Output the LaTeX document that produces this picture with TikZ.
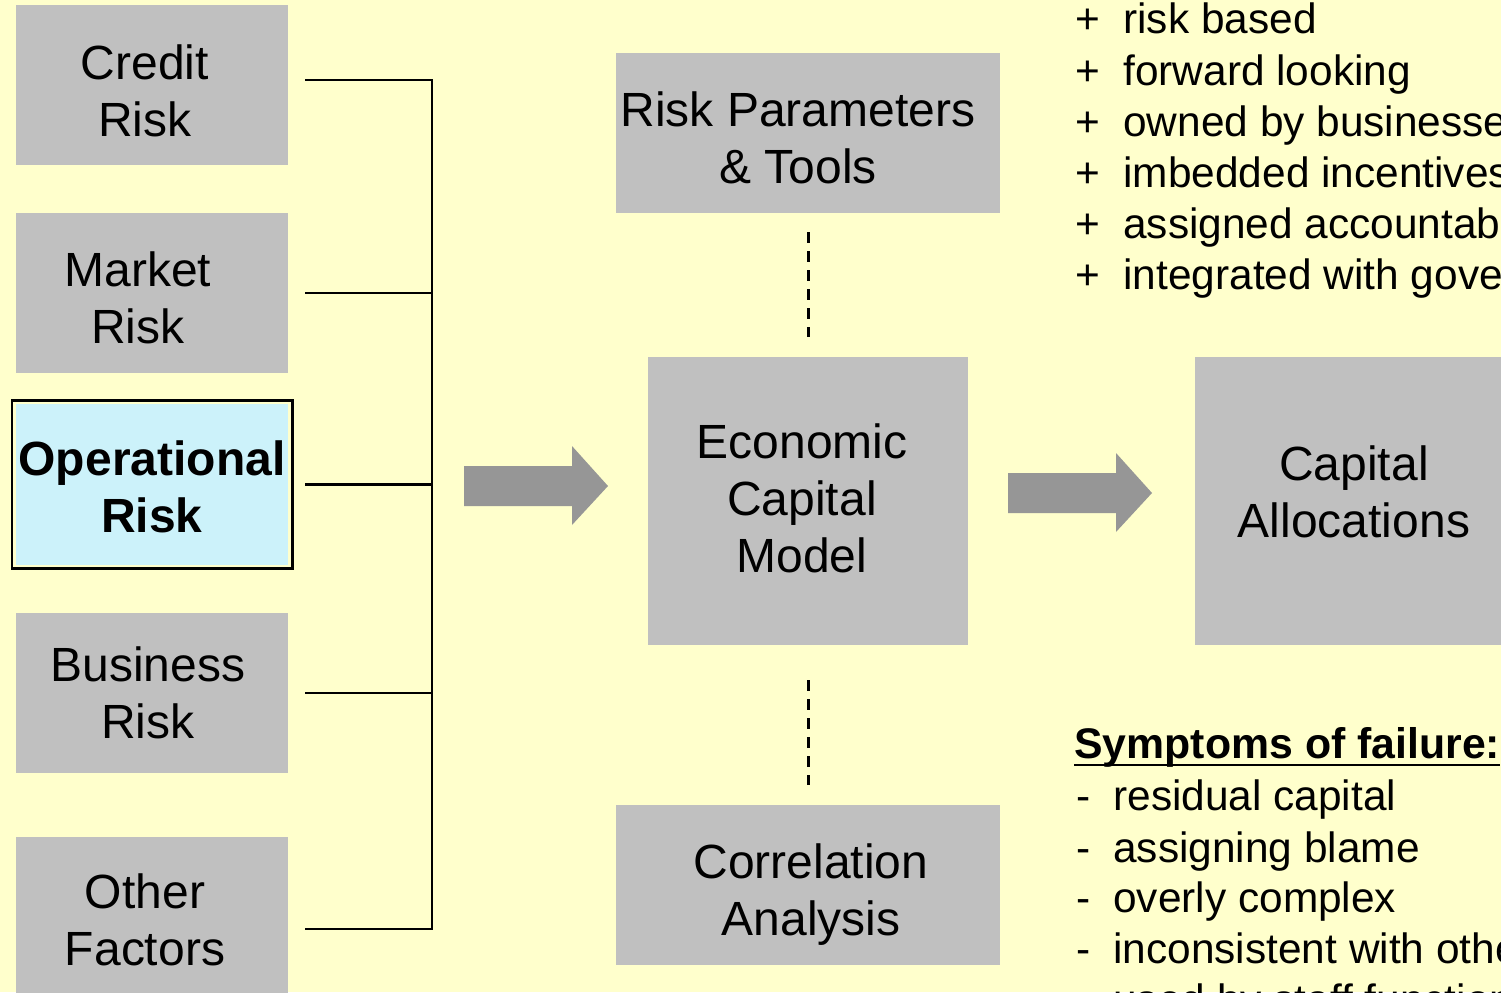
\documentclass[tikz,border=0pt]{standalone}
\usepackage{fontspec}
\setmainfont{Liberation Sans}
\definecolor{bg}{HTML}{FFFFCC}
\definecolor{boxgray}{HTML}{C0C0C0}
\definecolor{opcyan}{HTML}{CCF2FA}
\definecolor{arrowgray}{HTML}{969696}
\begin{document}
\begin{tikzpicture}[x=0.5pt,y=-0.5pt,
  box/.style={fill=boxgray, draw=none, inner sep=0pt},
  boxtxt/.style={align=center, inner sep=0pt, font=\fontsize{24pt}{28.5pt}\selectfont},
  conn/.style={draw=black, line width=1.25pt},
  dashln/.style={draw=black, line width=1.5pt, dash pattern=on 5.5pt off 4pt},
  blockarrow/.style={fill=arrowgray, draw=none},
  listtxt/.style={anchor=base west, inner sep=0pt, font=\fontsize{21.2pt}{25.7pt}\selectfont}]
\useasboundingbox (0,0) rectangle (1501,992);
\clip (0,0) rectangle (1501,992);
\fill[bg] (0,0) rectangle (1501,992);

% left column
\node[box, minimum width=136pt, minimum height=80pt] (credit) at (152,85) {};
\node[boxtxt] (creditT) at (145,91) {Credit\\Risk};
\node[box, minimum width=136pt, minimum height=80pt] (market) at (152,293) {};
\node[boxtxt] (marketT) at (138,298) {Market\\Risk};
\node[box, fill=opcyan, minimum width=136pt, minimum height=80.5pt] (ops) at (152,484.5) {};
\draw[line width=1.25pt] ([xshift=-1.75pt,yshift=1.5pt]ops.north west) rectangle ([xshift=2pt,yshift=-1.5pt]ops.south east);
\node[boxtxt, font=\fontsize{24pt}{28.5pt}\selectfont\bfseries] (opsT) at (152,486.5) {Operational\\Risk};
\node[box, minimum width=136pt, minimum height=80pt] (business) at (152,693) {};
\node[boxtxt] (businessT) at (148,693) {Business\\Risk};
\node[box, minimum width=136pt, minimum height=92pt] (other) at (152,929) {};
\node[boxtxt] (otherT) at (145,920) {Other\\Factors};

% bus connectors
\coordinate (bt) at (432,80);
\coordinate (bb) at (432,929);
\draw[conn] ([xshift=8.5pt,yshift=2.5pt]credit.east) -- (bt) -- (bb) -- ([xshift=8.5pt]other.east);
\draw[conn] ([xshift=8.5pt]market.east) -- (market.east -| bt);
\draw[conn] ([xshift=8.5pt]ops.east) -- (ops.east -| bt);
\draw[conn] ([xshift=8.5pt]business.east) -- (business.east -| bt);

% centre column
\node[box, minimum width=192pt, minimum height=80pt] (rp) at (808,133) {};
\node[boxtxt] (rpT) at (798,138) {Risk Parameters\\\& Tools};
\node[box, minimum width=160pt, minimum height=144pt] (ecm) at (808,501) {};
\node[boxtxt] (ecmT) at (802,498) {Economic\\Capital\\Model};
\node[box, minimum width=192pt, minimum height=80pt] (corr) at (808,885) {};
\node[boxtxt] (corrT) at (811,895) {Correlation\\Analysis};
\node[box, minimum width=160pt, minimum height=144pt] (cap) at (1355,501) {};
\node[boxtxt] (capT) at (1354,492) {Capital\\Allocations};

\draw[dashln, shorten <=9.5pt, shorten >=10pt] (rp.south) -- (ecm.north);
\draw[dashln, shorten <=17.5pt, shorten >=10pt] (ecm.south) -- (corr.north);

% block arrows
\fill[blockarrow] (464,466) -- (572,466) -- (572,446) -- (608,486) -- (572,525) -- (572,506) -- (464,506) -- cycle;
\fill[blockarrow] (1008,473) -- (1116,473) -- (1116,453) -- (1152,493) -- (1116,532) -- (1116,513) -- (1008,513) -- cycle;

% top-right list
\foreach \yy/\tx [count=\i] in {33/risk based, 85/forward looking, 136/owned by businesses, 187/imbedded incentives, 238/assigned accountability, 289/integrated with governance}{
  \node[listtxt] (plus\i) at (1075,\yy) {+};
  \node[listtxt] (good\i) at (1123,\yy) {\tx};
}

% symptoms
\node[listtxt, font=\fontsize{21.4pt}{25.7pt}\selectfont\bfseries] (sym) at (1074,758) {Symptoms of failure:};
\draw[line width=1.1pt] ([yshift=-3.5pt]sym.base west) -- ([yshift=-3.5pt]sym.base east);
\foreach \yy/\tx [count=\i] in {810/residual capital, 862/assigning blame, 912/overly complex, 963/inconsistent with other processes, 1014/used by staff functions}{
  \node[listtxt] (dash\i) at (1076,\yy) {-};
  \node[listtxt] (bad\i) at (1113,\yy) {\tx};
}
\end{tikzpicture}
\end{document}
